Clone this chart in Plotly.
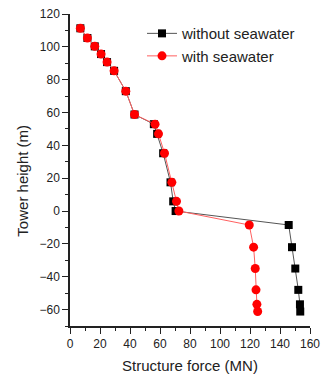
import plotly.graph_objects as go

height = [111.3, 105.4, 100.3, 95.6, 90.7, 85.4, 73.0, 58.8, 52.9, 47.0, 35.2, 17.5, 5.9, 0.0,
          -8.5, -22.0, -35.0, -48.0, -56.8, -61.2]
force_without = [6.9, 11.6, 16.5, 20.7, 24.7, 29.4, 37.2, 43.0, 55.9, 58.1, 62.1, 67.0, 68.8, 70.4,
                 145.8, 148.0, 150.2, 152.2, 153.3, 153.5]
force_with = [6.9, 11.6, 16.5, 20.7, 24.7, 29.4, 37.2, 43.0, 56.7, 59.0, 63.0, 67.9, 71.0, 72.6,
              119.5, 122.4, 123.5, 124.0, 124.6, 125.1]

FONT = "Arial, Liberation Sans, sans-serif"
TXT = "#222222"

fig = go.Figure()
fig.add_trace(go.Scatter(
    x=force_without, y=height, mode="lines+markers", name="without seawater",
    line=dict(color="#555555", width=1),
    marker=dict(symbol="square", size=8, color="black"),
))
fig.add_trace(go.Scatter(
    x=force_with, y=height, mode="lines+markers", name="with seawater",
    line=dict(color="#ff6060", width=1),
    marker=dict(symbol="circle", size=9, color="red"),
))

axis_common = dict(
    showgrid=False, zeroline=False, showline=True, linecolor=TXT, linewidth=1.5,
    ticks="outside", ticklen=6, tickwidth=1, tickcolor=TXT,
    tickfont=dict(family=FONT, size=12, color=TXT),
    minor=dict(ticks="outside", ticklen=3, tickcolor=TXT, dtick=10),
    automargin=False,
)

fig.update_layout(
    width=327, height=376,
    margin=dict(l=70, r=17, t=14, b=50),
    paper_bgcolor="white", plot_bgcolor="white",
    showlegend=True,
    legend=dict(x=0.30, y=0.99, xanchor="left", yanchor="top",
                font=dict(family=FONT, size=15, color=TXT),
                bgcolor="rgba(0,0,0,0)", tracegroupgap=0, itemwidth=30),
    xaxis=dict(range=[0, 160], dtick=20,
               title=dict(text="Structure force (MN)", font=dict(family=FONT, size=15, color=TXT), standoff=10),
               **axis_common),
    yaxis=dict(range=[-70, 120], dtick=20, **axis_common),
    annotations=[dict(text="Tower height (m)", xref="paper", yref="paper",
                      x=-0.197, y=0.465, xanchor="center", yanchor="middle",
                      textangle=-90, showarrow=False,
                      font=dict(family=FONT, size=15, color=TXT))],
)

fig.write_html("out.html", config={"displayModeBar": False},
               post_script="document.body.style.margin='0';document.body.style.overflow='hidden';")
